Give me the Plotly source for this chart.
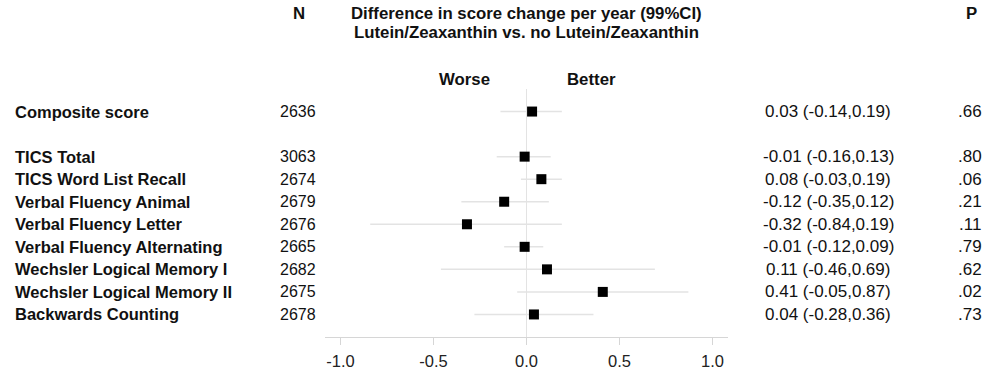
import plotly.graph_objects as go

labels = ["Composite score", "TICS Total", "TICS Word List Recall", "Verbal Fluency Animal",
          "Verbal Fluency Letter", "Verbal Fluency Alternating", "Wechsler Logical Memory I",
          "Wechsler Logical Memory II", "Backwards Counting"]
rows = [0, 2, 3, 4, 5, 6, 7, 8, 9]
n_vals = [2636, 3063, 2674, 2679, 2676, 2665, 2682, 2675, 2678]
est = [0.03, -0.01, 0.08, -0.12, -0.32, -0.01, 0.11, 0.41, 0.04]
lo = [-0.14, -0.16, -0.03, -0.35, -0.84, -0.12, -0.46, -0.05, -0.28]
hi = [0.19, 0.13, 0.19, 0.12, 0.19, 0.09, 0.69, 0.87, 0.36]
p_vals = [".66", ".80", ".06", ".21", ".11", ".79", ".62", ".02", ".73"]
tick_vals = [-1.0, -0.5, 0.0, 0.5, 1.0]
tick_text = ["-1.0", "-0.5", "0.0", "0.5", "1.0"]

FONT = "Liberation Sans, Arial, sans-serif"
TXT = "#111111"

W, H = 989, 373
L, R, T, B = 325, 261, 89, 36
pw = W - L - R
ph = H - T - B

def px(xp):
    return (xp - L) / pw

fig = go.Figure()

# CI lines
lx, ly = [], []
for r, a, b in zip(rows, lo, hi):
    lx += [a, b, None]
    ly += [r, r, None]
fig.add_trace(go.Scatter(x=lx, y=ly, mode="lines",
                         line=dict(color="#e3e3e3", width=1.5),
                         hoverinfo="skip", showlegend=False))
fig.add_trace(go.Scatter(x=est, y=rows, mode="markers",
                         marker=dict(symbol="square", size=10, color="black"),
                         showlegend=False))

ann = []
def cell(xp, r, text, size, anchor="center"):
    ann.append(dict(x=px(xp), y=r, xref="paper", yref="y", text=text,
                    xanchor=anchor, yanchor="middle", showarrow=False,
                    font=dict(family=FONT, size=size, color=TXT)))

for r, lab, n, e, a, b, p in zip(rows, labels, n_vals, est, lo, hi, p_vals):
    cell(13, r, "<b>%s</b>" % lab, 16.5, "left")
    cell(298, r, str(n), 16)
    cell(828, r, "%.2f (%.2f,%.2f)" % (e, a, b), 17)
    cell(970, r, p, 17)

def head(xp, yp, text, size=16.8):
    ann.append(dict(x=px(xp), y=1 + (T - yp) / ph, xref="paper", yref="paper",
                    text="<b>%s</b>" % text, xanchor="center", yanchor="middle",
                    showarrow=False, font=dict(family=FONT, size=size, color=TXT)))

head(299, 13, "N")
head(526, 13, "Difference in score change per year (99%CI)")
head(526, 32, "Lutein/Zeaxanthin vs. no Lutein/Zeaxanthin")
head(971, 13, "P")
head(464, 80, "Worse")
head(591, 80, "Better")

fig.update_layout(
    width=W, height=H,
    margin=dict(l=L, r=R, t=T, b=B, autoexpand=False),
    plot_bgcolor="white", paper_bgcolor="white",
    annotations=ann,
    xaxis=dict(range=[-1.083, 1.083], tickvals=tick_vals, ticktext=tick_text,
               showgrid=False, zeroline=True, zerolinecolor="#e3e3e3", zerolinewidth=1,
               showline=True, linecolor="#d6d6d6", linewidth=1,
               ticks="outside", ticklen=7, tickcolor="#d6d6d6",
               ticklabelstandoff=2, automargin=False,
               tickfont=dict(family=FONT, size=16.5, color="#222222")),
    yaxis=dict(range=[10, -1], showgrid=False, zeroline=False,
               showticklabels=False, showline=False),
)

fig.write_html("out.html", config={"displayModeBar": False},
               post_script="document.body.style.margin='0';document.body.style.overflow='hidden';")
